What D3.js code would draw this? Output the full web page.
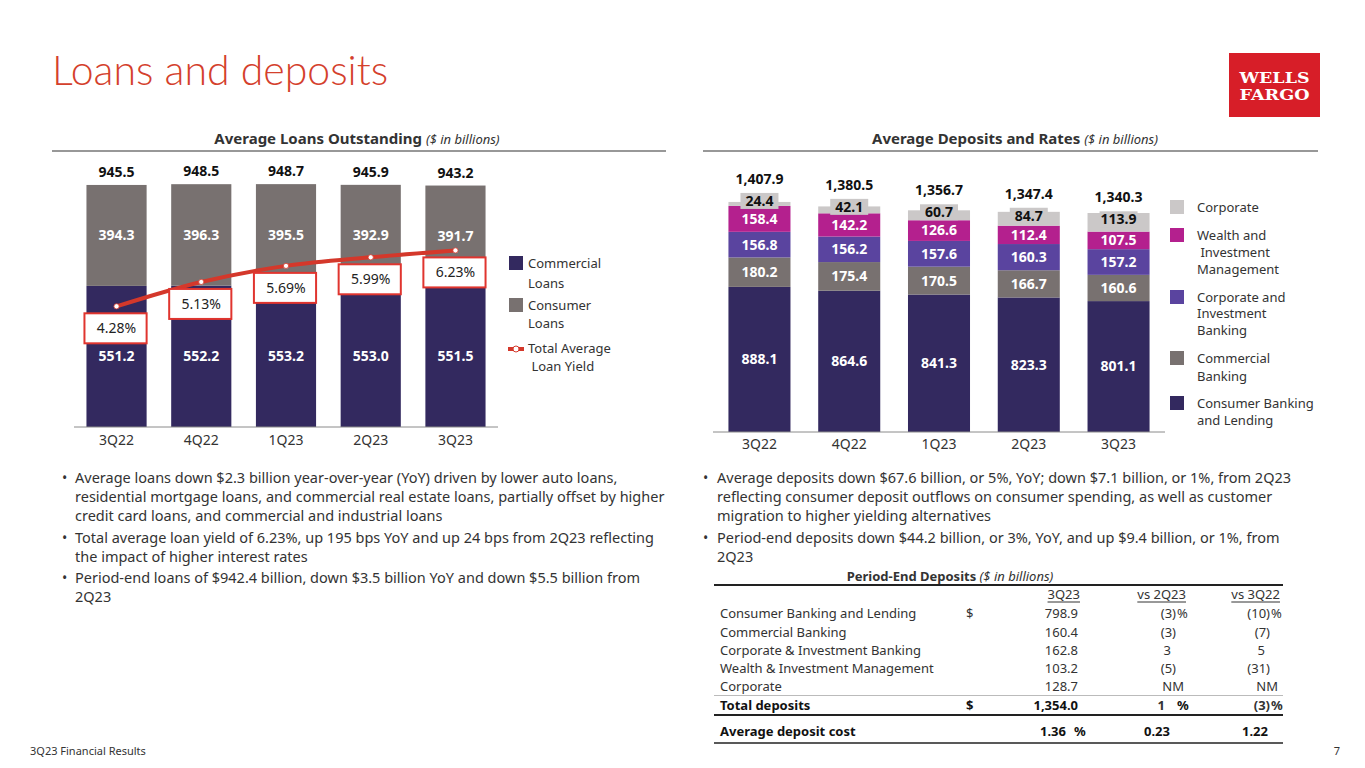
<!DOCTYPE html>
<html>
<head>
<meta charset="utf-8">
<script src="https://cdn.jsdelivr.net/npm/d3@7"></script>
<style>
  body { margin: 0; background: #fff; }
  svg text { font-family: "Noto Sans", "Open Sans", sans-serif; fill: #333; }
</style>
</head>
<body>
<svg id="slide" width="1365" height="768"></svg>
<script>
// ---- data ----
const quarters = ["3Q22", "4Q22", "1Q23", "2Q23", "3Q23"];

const commercialLoans = [551.2, 552.2, 553.2, 553.0, 551.5];
const consumerLoans = [394.3, 396.3, 395.5, 392.9, 391.7];
const loanTotals = [945.5, 948.5, 948.7, 945.9, 943.2];
const loanYield = [4.28, 5.13, 5.69, 5.99, 6.23];

const consumerBanking = [888.1, 864.6, 841.3, 823.3, 801.1];
const commercialBanking = [180.2, 175.4, 170.5, 166.7, 160.6];
const corpInvBanking = [156.8, 156.2, 157.6, 160.3, 157.2];
const wealthInv = [158.4, 142.2, 126.6, 112.4, 107.5];
const corporate = [24.4, 42.1, 60.7, 84.7, 113.9];
const depositTotals = [1407.9, 1380.5, 1356.7, 1347.4, 1340.3];

const tableLabels = ["Consumer Banking and Lending", "Commercial Banking", "Corporate & Investment Banking",
                     "Wealth & Investment Management", "Corporate"];
const table3Q23 = ["798.9", "160.4", "162.8", "103.2", "128.7"];
const tableVs2Q23 = ["(3)", "(3)", "3", "(5)", "NM"];
const tableVs3Q22 = ["(10)", "(7)", "5", "(31)", "NM"];

const loanBullets = [
  ["Average loans down $2.3 billion year-over-year (YoY) driven by lower auto loans,",
   "residential mortgage loans, and commercial real estate loans, partially offset by higher",
   "credit card loans, and commercial and industrial loans"],
  ["Total average loan yield of 6.23%, up 195 bps YoY and up 24 bps from 2Q23 reflecting",
   "the impact of higher interest rates"],
  ["Period-end loans of $942.4 billion, down $3.5 billion YoY and down $5.5 billion from",
   "2Q23"]
];
const depositBullets = [
  ["Average deposits down $67.6 billion, or 5%, YoY; down $7.1 billion, or 1%, from 2Q23",
   "reflecting consumer deposit outflows on consumer spending, as well as customer",
   "migration to higher yielding alternatives"],
  ["Period-end deposits down $44.2 billion, or 3%, YoY, and up $9.4 billion, or 1%, from",
   "2Q23"]
];

const navy = "#33295f", gray = "#787170", red = "#d4382b";
const depColors = ["#33295f", "#787170", "#5a449f", "#b4208e", "#cbc8c8"];

const svg = d3.select("#slide");

// ---- slide title, logo, footer ----
svg.append("text").attr("x", 52).attr("y", 85)
  .style("font-family", "Lato").style("font-weight", 300)
  .style("font-size", "41px").style("fill", "#d4402c")
  .text("Loans and deposits");

svg.append("rect").attr("x", 1229).attr("y", 53).attr("width", 91).attr("height", 64).attr("fill", "#d71e28");
svg.selectAll(".logo").data(["WELLS", "FARGO"]).enter().append("text")
  .attr("x", 1274.5).attr("y", (d, i) => 82.5 + i * 17)
  .attr("text-anchor", "middle")
  .attr("textLength", 70).attr("lengthAdjust", "spacingAndGlyphs")
  .style("font-family", "DejaVu Serif").style("font-weight", "bold")
  .style("font-size", "14px").style("fill", "#fff")
  .text(d => d);

svg.append("text").attr("x", 30).attr("y", 755).style("font-size", "11px").text("3Q23 Financial Results");
svg.append("text").attr("x", 1340).attr("y", 755).attr("text-anchor", "end").style("font-size", "11px").text("7");

// section headers
function header(cx, x1, x2, bold, italic) {
  const t = svg.append("text").attr("x", cx).attr("y", 144).attr("text-anchor", "middle");
  t.append("tspan").style("font-weight", "bold").style("font-size", "15px").text(bold + " ");
  t.append("tspan").style("font-style", "italic").style("font-size", "13px").text(italic);
  svg.append("line").attr("x1", x1).attr("x2", x2).attr("y1", 151).attr("y2", 151)
    .attr("stroke", "#333").attr("stroke-width", 1.2);
}
header(357, 52, 666, "Average Loans Outstanding", "($ in billions)");
header(1015, 703, 1318, "Average Deposits and Rates", "($ in billions)");

// ---- left chart: loans ----
const xL = d3.scaleBand().domain(quarters).range([74, 498]).paddingInner(0.29).paddingOuter(0.147);
const yL = d3.scaleLinear().domain([0, 1000]).range([427, 171]);
const yY = d3.scaleLinear().domain([0, 9]).range([429, 171]);

const loans = quarters.map((q, i) => ({ q, com: commercialLoans[i], con: consumerLoans[i], tot: loanTotals[i], yl: loanYield[i] }));

const gL = svg.append("g");
gL.selectAll(".com").data(loans).enter().append("rect")
  .attr("x", d => xL(d.q)).attr("width", xL.bandwidth())
  .attr("y", d => yL(d.com)).attr("height", d => yL(0) - yL(d.com))
  .attr("fill", navy);
gL.selectAll(".con").data(loans).enter().append("rect")
  .attr("x", d => xL(d.q)).attr("width", xL.bandwidth())
  .attr("y", d => yL(d.com + d.con)).attr("height", d => yL(d.com) - yL(d.com + d.con))
  .attr("fill", gray);

gL.append("line").attr("x1", 74).attr("x2", 498).attr("y1", yL(0)).attr("y2", yL(0))
  .attr("stroke", "#8a8a8a").attr("stroke-width", 1);

const cx = q => xL(q) + xL.bandwidth() / 2;

gL.selectAll(".lblCom").data(loans).enter().append("text")
  .attr("x", d => cx(d.q)).attr("y", d => (yL(d.com) + yL(0)) / 2)
  .attr("dy", "0.35em").attr("text-anchor", "middle")
  .style("fill", "#fff").style("font-weight", "bold").style("font-size", "14px")
  .text(d => d.com.toFixed(1));
gL.selectAll(".lblCon").data(loans).enter().append("text")
  .attr("x", d => cx(d.q)).attr("y", d => (yL(d.com) + yL(d.com + d.con)) / 2)
  .attr("dy", "0.35em").attr("text-anchor", "middle")
  .style("fill", "#fff").style("font-weight", "bold").style("font-size", "14px")
  .text(d => d.con.toFixed(1));
gL.selectAll(".lblTot").data(loans).enter().append("text")
  .attr("x", d => cx(d.q)).attr("y", d => yL(d.tot) - 8)
  .attr("text-anchor", "middle")
  .style("fill", "#111").style("font-weight", "bold").style("font-size", "14px")
  .text(d => d.tot.toFixed(1));

gL.selectAll(".cat").data(quarters).enter().append("text")
  .attr("x", d => cx(d)).attr("y", 445).attr("text-anchor", "middle")
  .style("font-size", "14px").text(d => d);

// yield line
const yieldLine = d3.line().x(d => cx(d.q)).y(d => yY(d.yl)).curve(d3.curveMonotoneX);
gL.append("path").datum(loans).attr("d", yieldLine)
  .attr("fill", "none").attr("stroke", red).attr("stroke-width", 4);
gL.selectAll(".dot").data(loans).enter().append("circle")
  .attr("cx", d => cx(d.q)).attr("cy", d => yY(d.yl)).attr("r", 2.6)
  .attr("fill", "#fff").attr("stroke", red).attr("stroke-width", 0.8);
gL.selectAll(".ybox").data(loans).enter().append("rect")
  .attr("x", d => xL(d.q) - 2).attr("width", xL.bandwidth() + 2)
  .attr("y", d => yY(d.yl) + 22 - 15).attr("height", 30)
  .attr("fill", "#fff").attr("stroke", "#e0352f").attr("stroke-width", 2);
gL.selectAll(".ylbl").data(loans).enter().append("text")
  .attr("x", d => cx(d.q)).attr("y", d => yY(d.yl) + 22)
  .attr("dy", "0.35em").attr("text-anchor", "middle")
  .style("font-size", "14px").style("fill", "#222")
  .text(d => d.yl.toFixed(2) + "%");

// left legend
const legL = svg.append("g");
legL.append("rect").attr("x", 509).attr("y", 256).attr("width", 14).attr("height", 14).attr("fill", navy);
legL.append("rect").attr("x", 509).attr("y", 298).attr("width", 14).attr("height", 14).attr("fill", gray);
legL.append("line").attr("x1", 508).attr("x2", 524).attr("y1", 349).attr("y2", 349).attr("stroke", red).attr("stroke-width", 4);
legL.append("circle").attr("cx", 516).attr("cy", 349).attr("r", 3).attr("fill", "#fff").attr("stroke", red);
[["Commercial", 263], ["Loans", 283], ["Consumer", 305], ["Loans", 323], ["Total Average", 348], [" Loan Yield", 366]]
  .forEach(([t, y]) => legL.append("text").attr("x", 528).attr("y", y).attr("dy", "0.35em")
    .style("font-size", "13px").style("white-space", "pre").text(t));

// ---- right chart: deposits ----
const xR = d3.scaleBand().domain(quarters).range([713, 1165]).paddingInner(0.309).paddingOuter(0.172);
const yR = d3.scaleLinear().domain([0, 1500]).range([432, 432 - 1500 * 0.1634]);

const depRows = quarters.map((q, i) => ({
  q, cbl: consumerBanking[i], cb: commercialBanking[i], cib: corpInvBanking[i],
  wim: wealthInv[i], corp: corporate[i], tot: depositTotals[i]
}));
const depKeys = ["cbl", "cb", "cib", "wim", "corp"];
const stack = d3.stack().keys(depKeys)(depRows);

const gR = svg.append("g");
gR.selectAll(".layer").data(stack).enter().append("g")
  .attr("fill", (d, i) => depColors[i])
  .selectAll("rect").data(d => d).enter().append("rect")
  .attr("x", d => xR(d.data.q)).attr("width", xR.bandwidth())
  .attr("y", d => yR(d[1])).attr("height", d => yR(d[0]) - yR(d[1]));

gR.append("line").attr("x1", 713).attr("x2", 1165).attr("y1", yR(0)).attr("y2", yR(0))
  .attr("stroke", "#8a8a8a").attr("stroke-width", 1);

const cxR = q => xR(q) + xR.bandwidth() / 2;

// inner labels (all but corporate)
stack.slice(0, 4).forEach(layer => {
  gR.selectAll(".l" + layer.key).data(layer).enter().append("text")
    .attr("x", d => cxR(d.data.q)).attr("y", d => (yR(d[0]) + yR(d[1])) / 2)
    .attr("dy", "0.35em").attr("text-anchor", "middle")
    .style("fill", "#fff").style("font-weight", "bold").style("font-size", "14px")
    .text(d => d.data[layer.key].toFixed(1));
});
// corporate labels with light box, totals above
const corpLayer = stack[4];
const corpY = d => (yR(d[0]) + yR(d[1])) / 2 - 3;
gR.selectAll(".cbox").data(corpLayer).enter().append("rect")
  .attr("x", d => cxR(d.data.q) - 19).attr("width", 38)
  .attr("y", d => corpY(d) - 8).attr("height", 16)
  .attr("fill", depColors[4]);
gR.selectAll(".clbl").data(corpLayer).enter().append("text")
  .attr("x", d => cxR(d.data.q)).attr("y", corpY)
  .attr("dy", "0.35em").attr("text-anchor", "middle")
  .style("fill", "#111").style("font-weight", "bold").style("font-size", "14px")
  .text(d => d.data.corp.toFixed(1));
gR.selectAll(".tlbl").data(corpLayer).enter().append("text")
  .attr("x", d => cxR(d.data.q)).attr("y", d => corpY(d) - 22)
  .attr("dy", "0.35em").attr("text-anchor", "middle")
  .style("fill", "#111").style("font-weight", "bold").style("font-size", "14px")
  .text(d => d3.format(",.1f")(d.data.tot));

gR.selectAll(".cat").data(quarters).enter().append("text")
  .attr("x", d => cxR(d)).attr("y", 449).attr("text-anchor", "middle")
  .style("font-size", "14px").text(d => d);

// right legend
const legR = svg.append("g");
const legItems = [
  { c: depColors[4], y: 200, lines: [["Corporate", 207]] },
  { c: depColors[3], y: 228, lines: [["Wealth and", 235], [" Investment", 252], ["Management", 269]] },
  { c: depColors[2], y: 290, lines: [["Corporate and", 297], ["Investment", 313], ["Banking", 330]] },
  { c: depColors[1], y: 351, lines: [["Commercial", 358], ["Banking", 376]] },
  { c: depColors[0], y: 396, lines: [["Consumer Banking", 403], ["and Lending", 420]] }
];
legItems.forEach(it => {
  legR.append("rect").attr("x", 1170).attr("y", it.y).attr("width", 14).attr("height", 14).attr("fill", it.c);
  it.lines.forEach(([t, y]) => legR.append("text").attr("x", 1197).attr("y", y).attr("dy", "0.35em")
    .style("font-size", "13px").style("white-space", "pre").text(t));
});

// ---- bullets ----
function bullets(list, bx, tx, y0) {
  let y = y0;
  list.forEach(lines => {
    svg.append("text").attr("x", bx).attr("y", y).attr("dy", "0.35em").style("font-size", "14px").text("•");
    lines.forEach(l => {
      svg.append("text").attr("x", tx).attr("y", y).attr("dy", "0.35em").style("font-size", "14.5px").text(l);
      y += 19.2;
    });
    y += 2;
  });
}
bullets(loanBullets, 62, 75, 478);
bullets(depositBullets, 703, 717, 478);

// ---- period-end deposits table ----
const tb = svg.append("g").style("font-size", "13px");
const tt = tb.append("text").attr("x", 950).attr("y", 576).attr("dy", "0.35em").attr("text-anchor", "middle");
tt.append("tspan").style("font-weight", "bold").text("Period-End Deposits ");
tt.append("tspan").style("font-style", "italic").text("($ in billions)");

const rule = (y, w, c) => tb.append("line").attr("x1", 714).attr("x2", 1283).attr("y1", y).attr("y2", y)
  .attr("stroke", c).attr("stroke-width", w);
rule(585, 2, "#222");
rule(695.5, 1, "#bbb");
rule(715, 2, "#222");
rule(743, 1.5, "#222");

const colQ = 1078, col2 = 1176, col3 = 1270;
[["3Q23", colQ + 2], ["vs 2Q23", col2 + 10], ["vs 3Q22", col3 + 10]].forEach(([t, x]) => {
  const h = tb.append("text").attr("x", x).attr("y", 594).attr("dy", "0.35em").attr("text-anchor", "end").text(t);
  const w = h.node().getComputedTextLength();
  tb.append("line").attr("x1", x - w).attr("x2", x).attr("y1", 602).attr("y2", 602).attr("stroke", "#333").attr("stroke-width", 1);
});

const rowY = [613, 632, 650, 668, 686];
function vsCell(v, x, y, pct, bold) {
  const t = tb.append("text").attr("y", y).attr("dy", "0.35em").attr("text-anchor", "end").text(v);
  if (bold) t.style("font-weight", "bold");
  if (v === "NM") t.attr("x", x + 8);
  else if (v.endsWith(")")) t.attr("x", x);
  else t.attr("x", x - 5);
  if (pct) {
    const p = tb.append("text").attr("x", x + 1).attr("y", y).attr("dy", "0.35em").text("%");
    if (bold) p.style("font-weight", "bold");
  }
}
tableLabels.forEach((lab, i) => {
  const y = rowY[i];
  tb.append("text").attr("x", 720).attr("y", y).attr("dy", "0.35em").text(lab);
  if (i === 0) tb.append("text").attr("x", 966).attr("y", y).attr("dy", "0.35em").text("$");
  tb.append("text").attr("x", colQ).attr("y", y).attr("dy", "0.35em").attr("text-anchor", "end").text(table3Q23[i]);
  vsCell(tableVs2Q23[i], col2, y, i === 0, false);
  vsCell(tableVs3Q22[i], col3, y, i === 0, false);
});

// total row
const bt = (t, x, y, anchor) => tb.append("text").attr("x", x).attr("y", y).attr("dy", "0.35em")
  .attr("text-anchor", anchor || "start").style("font-weight", "bold").style("fill", "#111").text(t);
bt("Total deposits", 720, 705);
bt("$", 966, 705);
bt("1,354.0", colQ, 705, "end");
vsCell("1", col2 - 6, 705, false, true);
bt("%", col2 + 1, 705);
vsCell("(3)", col3, 705, true, true);

bt("Average deposit cost", 720, 731);
bt("1.36", colQ - 12, 731, "end");
bt("%", colQ - 4, 731);
bt("0.23", col2 - 6, 731, "end");
bt("1.22", col3 - 2, 731, "end");
</script>
</body>
</html>
